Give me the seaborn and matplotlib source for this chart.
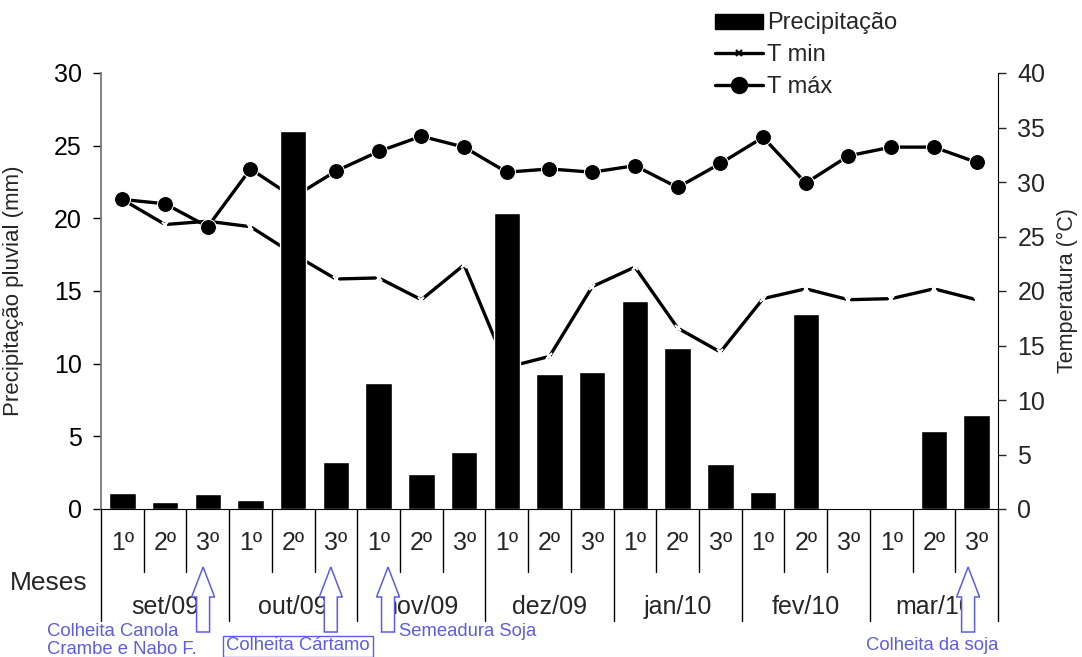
import matplotlib
matplotlib.use("Agg")
import matplotlib.pyplot as plt
import seaborn as sns
import numpy as np
from matplotlib.patches import Patch, Polygon, Rectangle
from matplotlib.lines import Line2D

meses = ["set/09", "out/09", "nov/09", "dez/09", "jan/10", "fev/10", "mar/10"]
decendios = ["1º", "2º", "3º"]

precipitacao = [1.1, 0.5, 1.0, 0.6, 26.0, 3.2, 8.7, 2.4, 3.9, 20.4, 9.3,
                9.4, 14.3, 11.1, 3.1, 1.2, 13.4, 0.0, 0.0, 5.4, 6.5]
t_min = [28.4, 26.1, 26.4, 25.9, 23.4, 21.1, 21.2, 19.2, 22.4, 13.0, 14.0,
         20.4, 22.2, 16.6, 14.4, 19.3, 20.2, 19.2, 19.3, 20.2, 19.2]
t_max = [28.4, 28.0, 25.9, 31.2, 28.6, 31.0, 32.8, 34.2, 33.2, 30.9, 31.2,
         30.9, 31.5, 29.5, 31.7, 34.1, 29.9, 32.4, 33.2, 33.2, 31.8]

# posicao das setas (em decendios)
setas = [1.89, 4.88, 6.22, 19.8]
azul = "#5c5ce6"

sns.set_style("white")
plt.rcParams["font.family"] = ["Liberation Sans", "DejaVu Sans"]

fig = plt.figure(figsize=(10.82, 6.57), dpi=100)
ax = fig.add_axes([101 / 1082, 1 - 509 / 657, 897 / 1082, 436 / 657])
ax2 = ax.twinx()

pos = np.arange(len(precipitacao))
sns.barplot(x=pos, y=precipitacao, color="black", saturation=1, width=0.62,
            errorbar=None, ax=ax)
ax.set_xlim(-0.5, len(pos) - 0.5)
ax.set_ylim(0, 30)
ax.set_yticks(range(0, 31, 5))
ax.set_xticks([])
ax.set_xlabel("")
ax.tick_params(axis="y", labelsize=18, direction="out", length=6, width=1,
               left=True, colors="black", pad=8)
ax.set_ylabel("Precipitação pluvial (mm)", fontsize=16)
ax.yaxis.set_label_coords(-0.086, 0.5)
ax.spines["top"].set_visible(False)
ax.spines["left"].set_color("#777777")
ax.spines["left"].set_linewidth(1.3)
ax.spines["bottom"].set_color("black")
ax.spines["right"].set_visible(False)

sns.lineplot(x=pos, y=t_min, color="black", lw=2.4, marker="x", ms=5,
             mew=1.5, ax=ax2)
sns.lineplot(x=pos, y=t_max, color="black", lw=2.4, marker="o", ms=11.5,
             ax=ax2)
ax2.set_ylim(0, 40)
ax2.set_yticks(range(0, 41, 5))
ax2.tick_params(axis="y", labelsize=18, direction="out", length=6, width=1,
                right=True, pad=8)
ax2.set_ylabel("Temperatura (°C)", fontsize=15.5)
ax2.yaxis.set_label_coords(1.066, 0.5)
ax2.spines["top"].set_visible(False)
ax2.spines["left"].set_visible(False)
ax2.spines["bottom"].set_visible(False)
ax2.spines["right"].set_color("black")

# barras por cima das linhas
ax.set_zorder(ax2.get_zorder() + 1)
ax.patch.set_visible(False)

# tabela do eixo x
tr = ax.get_xaxis_transform()
for i in range(len(pos) + 1):
    x = i - 0.5
    y_end = -0.256 if i % 3 == 0 else -0.1445
    ax.add_line(Line2D([x, x], [0, y_end], color="black", lw=1,
                       transform=tr, clip_on=False))
for i in pos:
    ax.text(i, -0.078, decendios[i % 3], transform=tr, ha="center",
            va="center", fontsize=18)
for m, nome in enumerate(meses):
    ax.text(3 * m + 1, -0.225, nome, transform=tr, ha="center",
            va="center", fontsize=18)
fig.text(49 / 1082, 1 - 583 / 657, "Meses", ha="center", va="center",
         fontsize=19)

# setas vazadas
fig.canvas.draw()
inv = fig.transFigure.inverted()
H = 657
for xs in setas:
    xc = ax.transData.transform((xs, 0))[0]
    pts = [(xc, 567), (xc + 11.5, 597), (xc + 6.5, 597), (xc + 6.5, 632),
           (xc - 6.5, 632), (xc - 6.5, 597), (xc - 11.5, 597)]
    pts = [inv.transform((px, H - py)) for px, py in pts]
    fig.patches.append(Polygon(pts, closed=True, facecolor="white",
                               edgecolor=azul, lw=1.1,
                               transform=fig.transFigure))

fig.text(47 / 1082, 1 - 631 / 657, "Colheita Canola", color=azul,
         fontsize=13.3, ha="left", va="center")
fig.text(47 / 1082, 1 - 650 / 657, "Crambe e Nabo F.", color=azul,
         fontsize=13.3, ha="left", va="center")
fig.patches.append(Rectangle((223 / 1082, 0), 150 / 1082, 21 / 657,
                             facecolor="white", edgecolor=azul, lw=1,
                             transform=fig.transFigure))
fig.text(298 / 1082, 1 - 646 / 657, "Colheita Cártamo", color=azul,
         fontsize=13.3, ha="center", va="center")
fig.text(399 / 1082, 1 - 631 / 657, "Semeadura Soja", color=azul,
         fontsize=13.3, ha="left", va="center")
fig.text(932 / 1082, 1 - 646 / 657, "Colheita da soja", color=azul,
         fontsize=13.3, ha="center", va="center")

handles = [
    Patch(facecolor="black", edgecolor="black"),
    Line2D([], [], color="black", lw=2.4, marker="x", ms=5, mew=1.5),
    Line2D([], [], color="black", lw=2.4, marker="o", ms=11.5),
]
fig.legend(handles, ["Precipitação", "T min", "T máx"], loc="upper left",
           bbox_to_anchor=(706 / 1082, 1 - 3 / 657), frameon=False,
           fontsize=17, handlelength=2.0, handleheight=0.6,
           handletextpad=0.2, labelspacing=0.42, borderaxespad=0)

fig.savefig("out.png", dpi=100)
